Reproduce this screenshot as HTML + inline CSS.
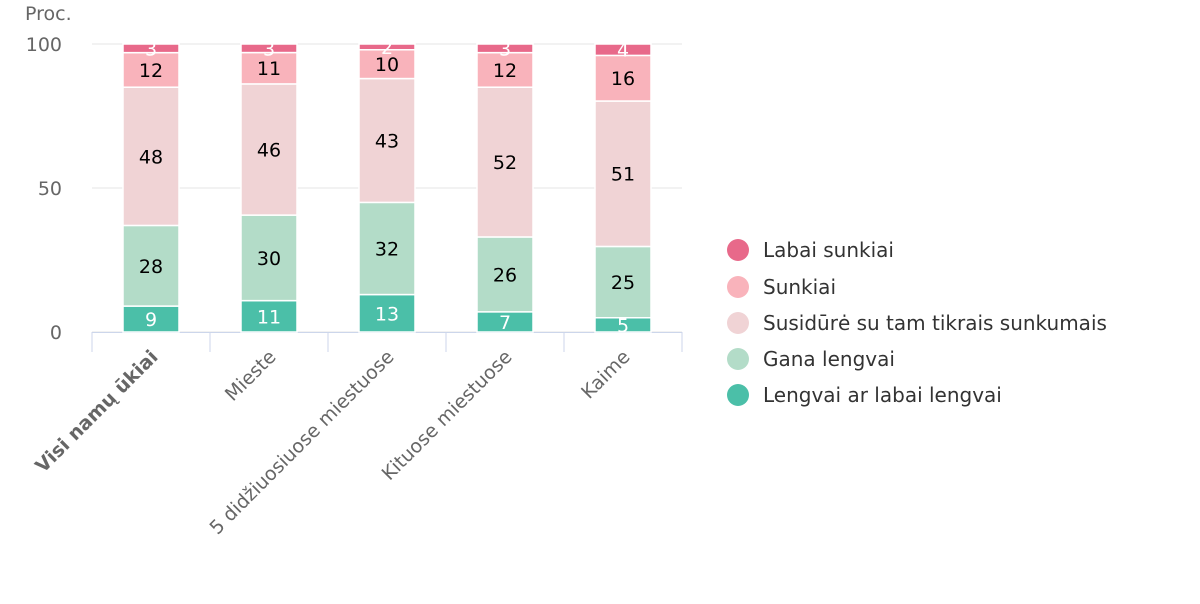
<!DOCTYPE html>
<html><head><meta charset="utf-8"><style>
body{margin:0;background:#fff;font-family:"DejaVu Sans","Liberation Sans",sans-serif;}
svg text{font-family:"DejaVu Sans","Liberation Sans",sans-serif;}
</style></head><body>
<svg id="c" width="1200" height="600" xmlns="http://www.w3.org/2000/svg"></svg>
<script>
const categories=["Visi namų ūkiai","Mieste","5 didžiuosiuose miestuose","Kituose miestuose","Kaime"];
const seriesNames=["Lengvai ar labai lengvai","Gana lengvai","Susidūrė su tam tikrais sunkumais","Sunkiai","Labai sunkiai"];
const lengvai=[9,11,13,7,5];
const gana=[28,30,32,26,25];
const susidure=[48,46,43,52,51];
const sunkiai=[12,11,10,12,16];
const labaiSunkiai=[3,3,2,3,4];
const yTicks=[0,50,100];
const colors=["#4bbfa8","#b3dcc8","#f0d3d5","#f9b3bb","#e8698a"];
const labelColors=["#fff","#000","#000","#000","#fff"];
const series=[lengvai,gana,susidure,sunkiai,labaiSunkiai];
const svg=document.getElementById('c');
const NS="http://www.w3.org/2000/svg";
const L=92,R=682,T=44,B=332;
const y=v=>B-(B-T)*v/100;
const bw=(R-L)/categories.length;
const xc=i=>L+bw*(i+0.5);
function mk(tag,attrs,txt){const e=document.createElementNS(NS,tag);for(const k in attrs)e.setAttribute(k,attrs[k]);if(txt!==undefined)e.textContent=txt;svg.appendChild(e);return e;}
let t=mk('text',{x:25,y:20,'font-size':19,fill:'#666'},'Proc.');


yTicks.forEach(v=>{
 let g=mk('line',{x1:L,x2:R,y1:y(v),y2:y(v),stroke:'#e6e6e6','stroke-width':1});
 
 
 let l=mk('text',{x:62,y:y(v)+7,'font-size':19,fill:'#666','text-anchor':'end'},String(v));
 
 
});
let ax=mk('line',{x1:L,x2:R,y1:B+0.5,y2:B+0.5,stroke:'#ccd6eb','stroke-width':1});


for(let i=0;i<=categories.length;i++){
 let tk=mk('line',{x1:L+bw*i,x2:L+bw*i,y1:B,y2:B+20,stroke:'#ccd6eb'});
 
 
}
categories.forEach((c,i)=>{
 const tot=series.reduce((s,a)=>s+a[i],0);
 let acc=0;
 series.forEach((a,s)=>{
  const v=a[i]*100/tot;
  const y0=y(acc),y1=y(acc+v);
  let r=mk('rect',{x:xc(i)-28,y:y1,width:56,height:y0-y1,fill:colors[s],stroke:'#fff','stroke-width':1.5});
  
  
  let lb=mk('text',{x:xc(i),y:(y0+y1)/2+7,'font-size':19,fill:labelColors[s],'text-anchor':'middle'},String(a[i]));
  
  
  acc+=v;
 });
 const xl=mk('text',{x:xc(i)+8,y:B+26,'font-size':19,fill:'#666','text-anchor':'end',transform:`rotate(-45 ${xc(i)+8} ${B+26})`,'font-weight':i===0?'bold':'normal'},c);
 
 
});
const ly=[250,287,323,359,395];
[4,3,2,1,0].forEach((s,k)=>{
 let ci=mk('circle',{cx:738,cy:ly[k],r:11,fill:colors[s]});
 
 
 let lt=mk('text',{x:763,y:ly[k]+7,'font-size':20,fill:'#333'},seriesNames[s]);
 
 
});
</script>
</body></html>
